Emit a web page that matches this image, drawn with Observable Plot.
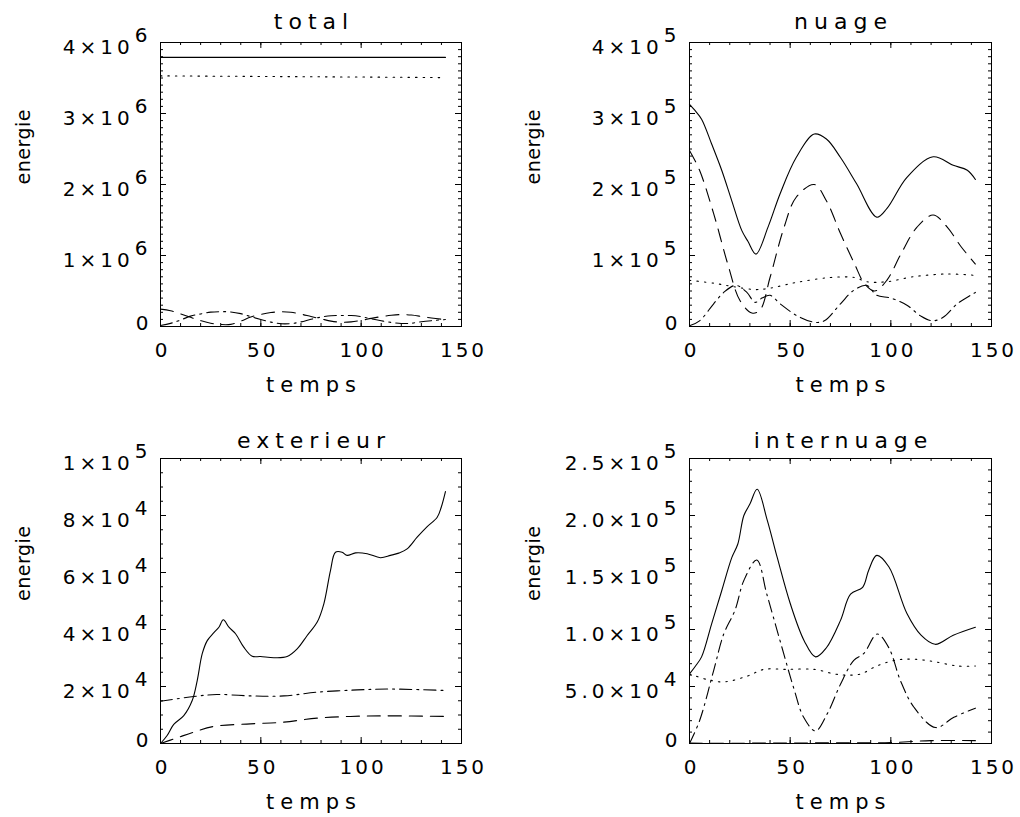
<!DOCTYPE html>
<html>
<head>
<meta charset="utf-8">
<script src="https://cdn.jsdelivr.net/npm/d3@7"></script>
<script src="https://cdn.jsdelivr.net/npm/@observablehq/plot@0.6"></script>
<style>
  html, body { margin: 0; padding: 0; background: #fff; }
  #wrap { position: relative; width: 1020px; height: 817px; background: #fff; overflow: hidden; }
  #wrap > svg { position: absolute; }
  #wrap svg text { font-family: "DejaVu Sans", sans-serif; fill: #000; }
</style>
</head>
<body>
<div id="wrap"></div>
<script>
// ---------- data ----------
const xTickValues = [0, 50, 100, 150];
const xTickLabels = ["0", "50", "100", "150"];

// total panel
const totalSolidT = [0, 142];
const totalSolidV = [3.79e6, 3.79e6];
const totalDottedT = [0, 30, 60, 90, 120, 142];
const totalDottedV = [3.53e6, 3.525e6, 3.52e6, 3.515e6, 3.51e6, 3.505e6];
const totalGridT = [0,5,10,15,20,25,30,35,40,45,50,55,60,65,70,75,80,85,90,95,100,105,110,115,120,125,130,135,140,142];
const totalDashedV = [2.45e5,2.22e5,1.77e5,1.29e5,0.83e5,0.46e5,0.28e5,0.30e5,0.75e5,1.33e5,1.71e5,1.97e5,2.08e5,2.0e5,1.74e5,1.40e5,1.08e5,0.76e5,0.61e5,0.65e5,0.86e5,1.14e5,1.39e5,1.58e5,1.68e5,1.61e5,1.42e5,1.2e5,1.03e5,0.98e5];
const totalDashDotV = [0.15e5,0.44e5,0.91e5,1.46e5,1.77e5,2.02e5,2.09e5,2.05e5,1.81e5,1.39e5,0.99e5,0.62e5,0.39e5,0.41e5,0.65e5,1.02e5,1.33e5,1.52e5,1.54e5,1.55e5,1.39e5,1.08e5,0.81e5,0.57e5,0.42e5,0.46e5,0.67e5,0.82e5,0.94e5,0.98e5];
const totalYTicks = [0, 1e6, 2e6, 3e6, 4e6];
const totalYLabels = ["0", "1×10^6", "2×10^6", "3×10^6", "4×10^6"];

// nuage panel
const nuageSolidT = [0,2.5,6,11,16,21,26,29,33,39,45,53,62,68,75,83,93,98,108,121,131,138,142];
const nuageSolidV = [3.13e5,3.05e5,2.92e5,2.57e5,2.2e5,1.77e5,1.35e5,1.2e5,1.02e5,1.40e5,1.87e5,2.38e5,2.71e5,2.64e5,2.38e5,2.01e5,1.54e5,1.66e5,2.10e5,2.39e5,2.27e5,2.2e5,2.07e5];
const nuageDashedT = [0,5,12,19,25,31,35,40,47,53,62,68,75,82,87,92,98,105,113,121,128,135,142];
const nuageDashedV = [2.48e5,2.2e5,1.59e5,0.88e5,0.37e5,0.19e5,0.23e5,0.69e5,1.40e5,1.82e5,2.0e5,1.77e5,1.31e5,0.88e5,0.6e5,0.5e5,0.65e5,1.02e5,1.40e5,1.57e5,1.40e5,1.12e5,0.88e5];
const nuageDottedT = [0,12,22,33,40,53,70,82,88,98,111,128,142];
const nuageDottedV = [0.65e5,0.61e5,0.56e5,0.52e5,0.54e5,0.62e5,0.69e5,0.69e5,0.63e5,0.63e5,0.70e5,0.74e5,0.72e5];
const nuageDashDotT = [0,5,12,17,23,28.5,32.5,36,40,45,53.5,62,67,75,81.6,88,93,100,108,114.7,120.5,126,133,142];
const nuageDashDotV = [0.01e5,0.08e5,0.32e5,0.48e5,0.58e5,0.48e5,0.34e5,0.40e5,0.44e5,0.32e5,0.15e5,0.06e5,0.08e5,0.32e5,0.51e5,0.58e5,0.44e5,0.40e5,0.30e5,0.15e5,0.08e5,0.13e5,0.32e5,0.48e5];
const nuageYTicks = [0, 1e5, 2e5, 3e5, 4e5];
const nuageYLabels = ["0", "1×10^5", "2×10^5", "3×10^5", "4×10^5"];

// exterieur panel
const extSolidT = [0,3.3,6.6,11.6,15.8,18.3,20.8,23.3,26.6,29.1,31.3,34.1,37.4,41.5,45.7,49.8,56.5,63.1,68.1,73.1,78.1,81.4,84.7,87.2,90.5,93,97.2,103,109.6,114.6,118.7,122.9,127.9,132.9,137.9,139.9,142];
const extSolidV = [0,0.28e4,0.67e4,0.98e4,1.51e4,2.21e4,3.15e4,3.61e4,3.89e4,4.08e4,4.34e4,4.08e4,3.85e4,3.38e4,3.06e4,3.05e4,3.01e4,3.05e4,3.32e4,3.79e4,4.26e4,4.9e4,6.07e4,6.71e4,6.71e4,6.6e4,6.69e4,6.66e4,6.52e4,6.6e4,6.68e4,6.83e4,7.24e4,7.61e4,7.94e4,8.29e4,8.84e4];
const extDashDotT = [0,16.6,28,45,61.5,78,98,114.6,142];
const extDashDotV = [1.48e4,1.65e4,1.72e4,1.67e4,1.67e4,1.80e4,1.88e4,1.91e4,1.86e4];
const extDashedT = [0,8.3,16.6,26.6,44.8,61.5,78,94.7,111.3,142];
const extDashedV = [0,0.2e4,0.4e4,0.6e4,0.69e4,0.75e4,0.89e4,0.95e4,0.97e4,0.95e4];
const extYTicks = [0, 2e4, 4e4, 6e4, 8e4, 1e5];
const extYLabels = ["0", "2×10^4", "4×10^4", "6×10^4", "8×10^4", "1×10^5"];

// internuage panel
const intSolidT = [0,3,6,11,16,21,24,27,30,33.6,38.6,43.6,50,57,62.6,68,75,80,86,89,93,99,108,115,122,131,142];
const intSolidV = [0.61e5,0.68e5,0.76e5,1.05e5,1.34e5,1.63e5,1.75e5,2.0e5,2.10e5,2.23e5,1.96e5,1.63e5,1.23e5,0.90e5,0.76e5,0.84e5,1.08e5,1.31e5,1.37e5,1.52e5,1.65e5,1.55e5,1.14e5,0.95e5,0.87e5,0.95e5,1.02e5];
const intDashDotT = [0,5,12,17,22.6,27,33.4,38.4,45,51.7,56.7,62.6,68.4,75,81.6,86.6,93.2,99,104.8,111.4,122.2,131.3,142];
const intDashDotV = [0,0.2e5,0.64e5,0.96e5,1.17e5,1.43e5,1.61e5,1.31e5,0.90e5,0.49e5,0.23e5,0.11e5,0.26e5,0.52e5,0.73e5,0.79e5,0.96e5,0.84e5,0.55e5,0.32e5,0.14e5,0.23e5,0.31e5];
const intDottedT = [0,9,17,28.5,37,48,62,72,78,85,93,102,111,121,133,142];
const intDottedV = [0.61e5,0.56e5,0.54e5,0.59e5,0.65e5,0.65e5,0.65e5,0.61e5,0.60e5,0.61e5,0.68e5,0.73e5,0.74e5,0.72e5,0.68e5,0.68e5];
const intDashedT = [0,20,40,60,80,100,120,142];
const intDashedV = [300,200,400,500,600,800,2500,2500];
const intYTicks = [0, 5e4, 1e5, 1.5e5, 2e5, 2.5e5];
const intYLabels = ["0", "5.0×10^4", "1.0×10^5", "1.5×10^5", "2.0×10^5", "2.5×10^5"];

// ---------- styles ----------
const DASH = { solid: null, dotted: "1.5,6", dashed: "13,8", dashdot: "12,5,2,5" };
const zip = (T, V) => T.map((t, i) => ({ t, v: V[i] }));

const panels = [
  { title: "total", left: 0, top: 0, w: 510, h: 408, mL: 160, mT: 42, pw: 301, ph: 284, yMax: 4e6, minor: 1e5,
    yTicks: totalYTicks, yLabels: totalYLabels, titleDy: -14,
    series: [
      [zip(totalSolidT, totalSolidV), "solid"],
      [zip(totalDottedT, totalDottedV), "dotted"],
      [zip(totalGridT, totalDashedV), "dashed"],
      [zip(totalGridT, totalDashDotV), "dashdot"]
    ] },
  { title: "nuage", left: 510, top: 0, w: 510, h: 408, mL: 179, mT: 42, pw: 302, ph: 284, yMax: 4e5, minor: 1e4,
    yTicks: nuageYTicks, yLabels: nuageYLabels, titleDy: -14,
    series: [
      [zip(nuageSolidT, nuageSolidV), "solid"],
      [zip(nuageDottedT, nuageDottedV), "dotted"],
      [zip(nuageDashedT, nuageDashedV), "dashed"],
      [zip(nuageDashDotT, nuageDashDotV), "dashdot"]
    ] },
  { title: "exterieur", left: 0, top: 408, w: 510, h: 409, mL: 160, mT: 50, pw: 301, ph: 285, yMax: 1e5, minor: 5e3,
    yTicks: extYTicks, yLabels: extYLabels, titleDy: -11,
    series: [
      [zip(extSolidT, extSolidV), "solid"],
      [zip(extDashedT, extDashedV), "dashed"],
      [zip(extDashDotT, extDashDotV), "dashdot"]
    ] },
  { title: "internuage", left: 510, top: 408, w: 510, h: 409, mL: 179, mT: 50, pw: 302, ph: 285, yMax: 2.5e5, minor: 1e4,
    yTicks: intYTicks, yLabels: intYLabels, titleDy: -11,
    series: [
      [zip(intSolidT, intSolidV), "solid"],
      [zip(intDottedT, intDottedV), "dotted"],
      [zip(intDashedT, intDashedV), "dashed"],
      [zip(intDashDotT, intDashDotV), "dashdot"]
    ] }
];

const wrap = document.getElementById("wrap");
const SVGNS = "http://www.w3.org/2000/svg";

for (const p of panels) {
  const xMinor = d3.range(0, 150.001, 10);
  const yMinor = d3.range(0, p.yMax * 1.00001, p.minor);
  const MAJ = 6, MIN = 3;
  const lab = p.yTicks.map((v, i) => ({ v, s: p.yLabels[i] }));
  const labExp = lab.filter(d => d.s.includes("^"));
  const labZero = lab.filter(d => !d.s.includes("^"));

  const marks = [];
  for (const [data, style] of p.series) {
    marks.push(Plot.line(data, {
      x: "t", y: "v", stroke: "black", strokeWidth: 1.1,
      strokeDasharray: DASH[style], curve: "catmull-rom"
    }));
  }
  // ticks (inward, all four sides)
  marks.push(Plot.ruleX(xMinor, { x: d => d, insetTop: p.ph - MIN, stroke: "black" }));
  marks.push(Plot.ruleX(xMinor, { x: d => d, insetBottom: p.ph - MIN, stroke: "black" }));
  marks.push(Plot.ruleX(xTickValues, { x: d => d, insetTop: p.ph - MAJ, stroke: "black" }));
  marks.push(Plot.ruleX(xTickValues, { x: d => d, insetBottom: p.ph - MAJ, stroke: "black" }));
  marks.push(Plot.ruleY(yMinor, { y: d => d, insetRight: p.pw - MIN, stroke: "black" }));
  marks.push(Plot.ruleY(yMinor, { y: d => d, insetLeft: p.pw - MIN, stroke: "black" }));
  marks.push(Plot.ruleY(p.yTicks, { y: d => d, insetRight: p.pw - MAJ, stroke: "black" }));
  marks.push(Plot.ruleY(p.yTicks, { y: d => d, insetLeft: p.pw - MAJ, stroke: "black" }));
  marks.push(Plot.frame({ stroke: "black", strokeWidth: 1 }));
  // x tick labels
  marks.push(Plot.text(xTickValues, {
    x: d => d, text: (d, i) => xTickLabels[i], frameAnchor: "bottom", lineAnchor: "bottom",
    dy: 30, dx: 2, fontSize: 20, textAnchor: "middle"
  }));
  // y tick labels
  marks.push(Plot.text(labExp, {
    y: "v", text: "s", frameAnchor: "left", textAnchor: "end", dx: -9, dy: 5,
    fontSize: 20
  }));
  marks.push(Plot.text(labZero, {
    y: "v", text: "s", frameAnchor: "left", textAnchor: "end", dx: -9, dy: -3,
    fontSize: 20
  }));
  // titles
  marks.push(Plot.text([p.title], {
    text: d => d, frameAnchor: "top", lineAnchor: "bottom", dy: p.titleDy, dx: 3,
    fontSize: 22
  }));
  marks.push(Plot.text(["temps"], {
    text: d => d, frameAnchor: "bottom", lineAnchor: "bottom", dy: 65, dx: 3,
    fontSize: 21
  }));
  marks.push(Plot.text(["energie"], {
    text: d => d, frameAnchor: "left", rotate: -90, dx: 23 - p.mL,
    fontSize: 19
  }));

  const svg = Plot.plot({
    width: p.w, height: p.h,
    marginLeft: p.mL, marginTop: p.mT,
    marginRight: p.w - p.mL - p.pw, marginBottom: p.h - p.mT - p.ph,
    x: { domain: [0, 150], axis: null },
    y: { domain: [0, p.yMax], axis: null },
    style: { background: "white", overflow: "visible" },
    marks
  });
  svg.style.left = p.left + "px";
  svg.style.top = p.top + "px";

  // post-process texts: letter spacing and superscript exponents
  svg.querySelectorAll("text").forEach(t => {
    const s = t.textContent;
    if (s === p.title || s === "temps") {
      t.style.letterSpacing = "6px";
    } else if (s === "energie") {
      t.style.letterSpacing = "0.5px";
    } else if (s.includes("^")) {
      const [m, e] = s.split("^");
      t.textContent = "";
      t.style.letterSpacing = "4px";
      t.appendChild(document.createTextNode(m));
      const ts = document.createElementNS(SVGNS, "tspan");
      ts.setAttribute("dy", "-12");
      ts.setAttribute("dx", "1");
      ts.textContent = e;
      t.appendChild(ts);
    } else {
      t.style.letterSpacing = "3px";
    }
  });
  wrap.appendChild(svg);
}
</script>
</body>
</html>
